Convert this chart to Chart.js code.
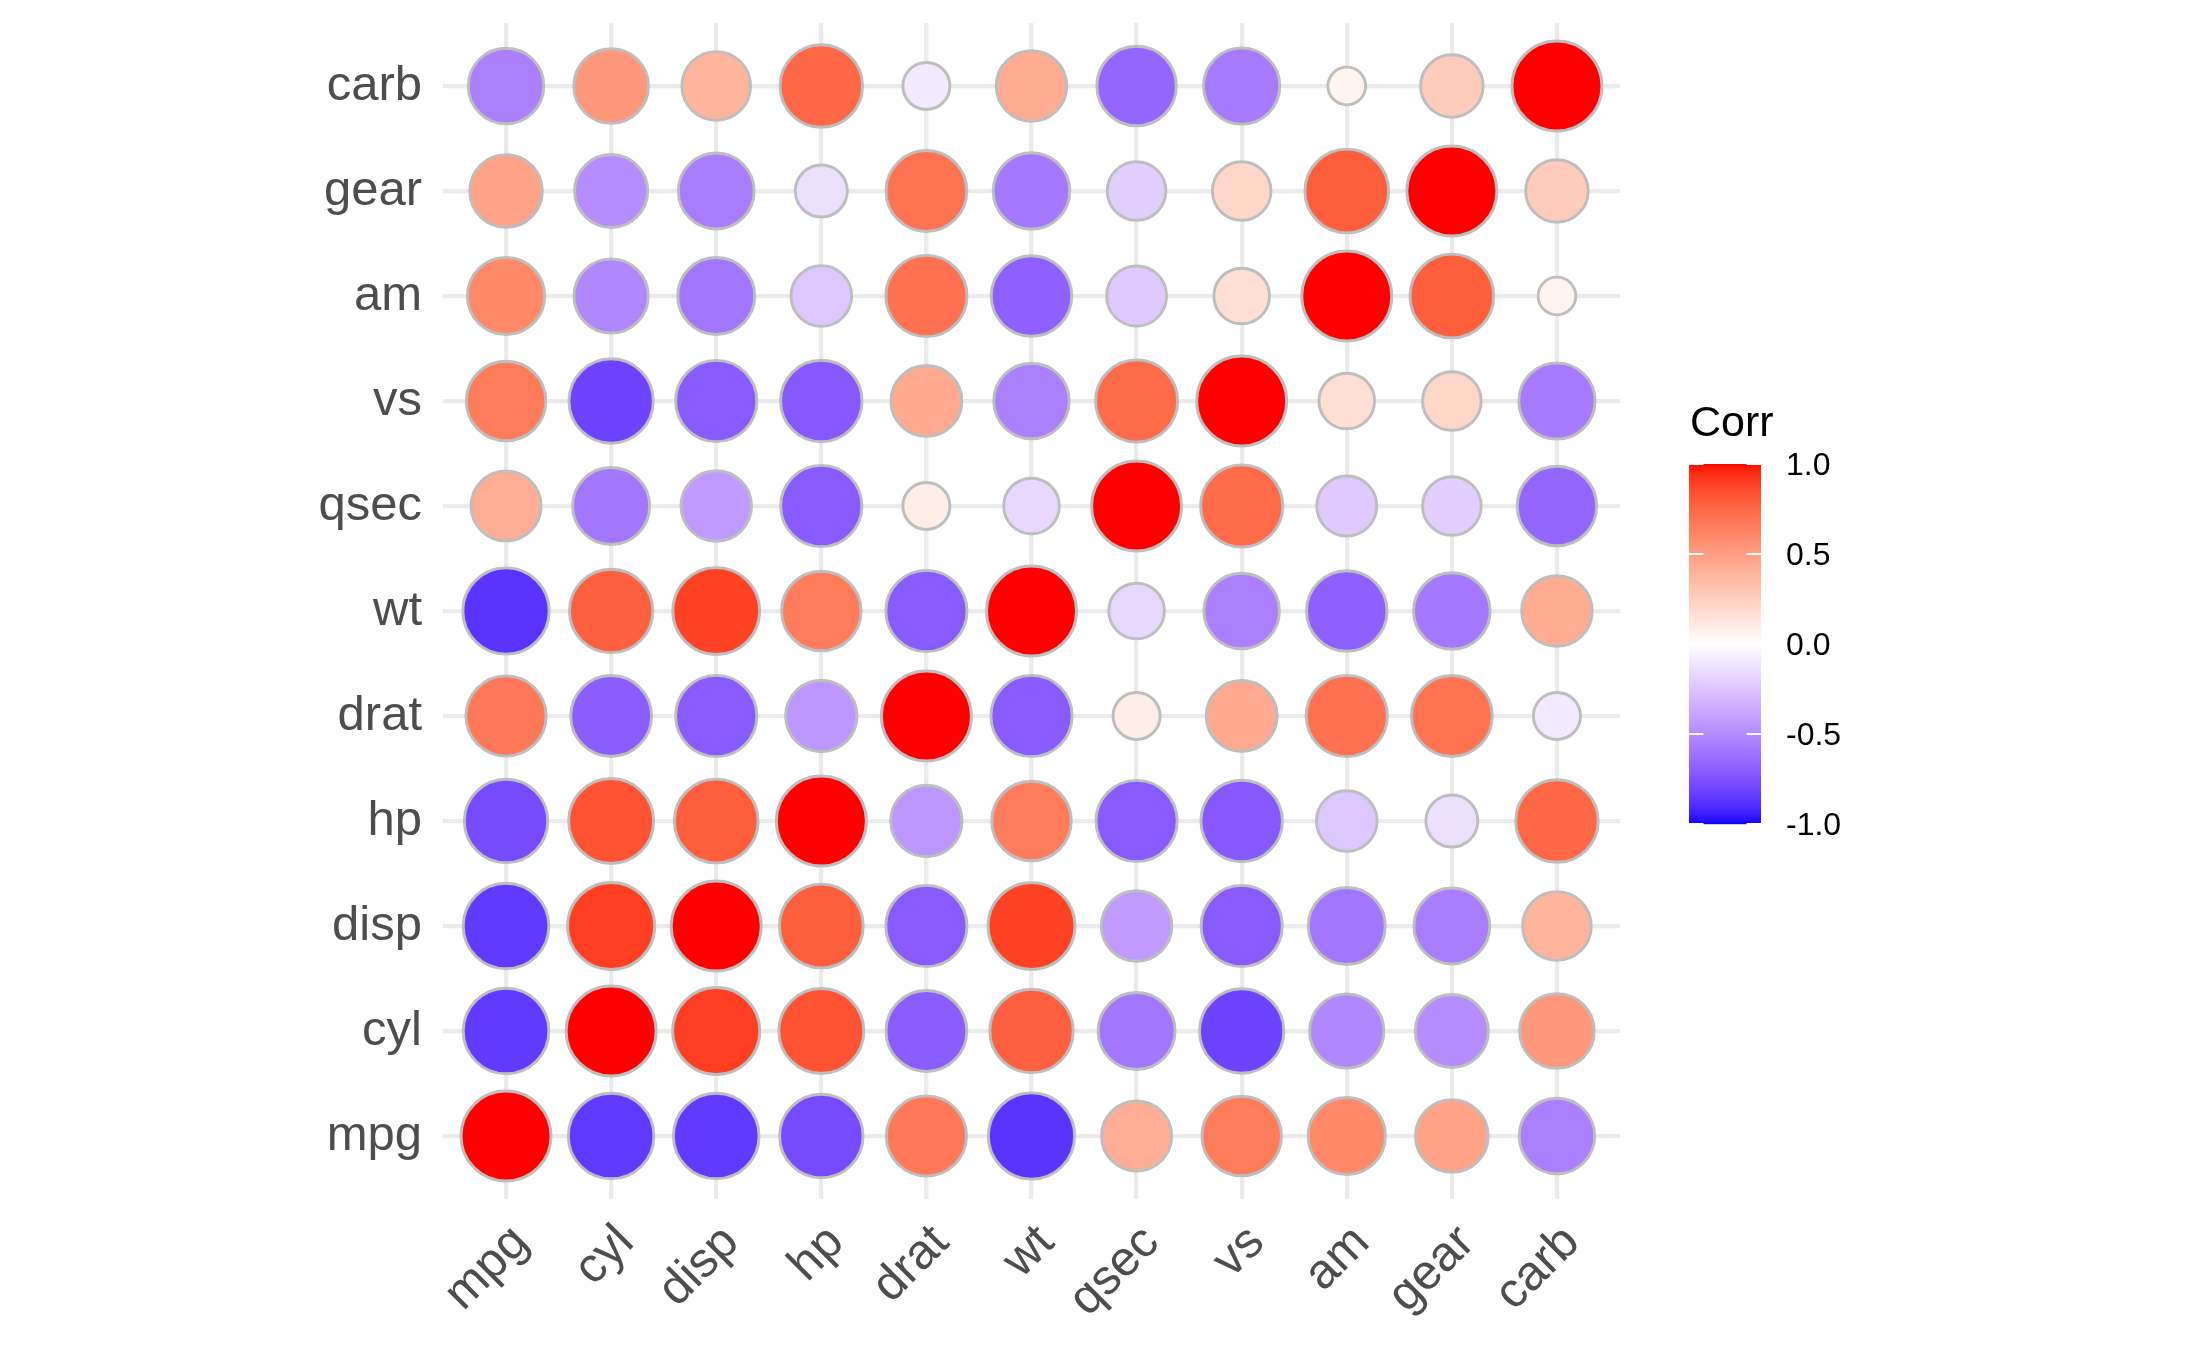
<!DOCTYPE html>
<html>
<head>
<meta charset="utf-8">
<script src="https://cdn.jsdelivr.net/npm/chart.js@4"></script>
<style>
html,body{margin:0;padding:0;background:#fff;}
#c{display:block;}
</style>
</head>
<body>
<canvas id="c" width="2187" height="1351"></canvas>
<script>
// ---- data (ggcorrplot of mtcars correlations, rounded to 2 digits) ----
const vars = ["mpg","cyl","disp","hp","drat","wt","qsec","vs","am","gear","carb"];
const mpg  = [ 1.00,-0.85,-0.85,-0.78, 0.68,-0.87, 0.42, 0.66, 0.60, 0.48,-0.55];
const cyl  = [-0.85, 1.00, 0.90, 0.83,-0.70, 0.78,-0.59,-0.81,-0.52,-0.49, 0.53];
const disp = [-0.85, 0.90, 1.00, 0.79,-0.71, 0.89,-0.43,-0.71,-0.59,-0.56, 0.39];
const hp   = [-0.78, 0.83, 0.79, 1.00,-0.45, 0.66,-0.71,-0.72,-0.24,-0.13, 0.75];
const drat = [ 0.68,-0.70,-0.71,-0.45, 1.00,-0.71, 0.09, 0.44, 0.71, 0.70,-0.09];
const wt   = [-0.87, 0.78, 0.89, 0.66,-0.71, 1.00,-0.17,-0.55,-0.69,-0.58, 0.43];
const qsec = [ 0.42,-0.59,-0.43,-0.71, 0.09,-0.17, 1.00, 0.74,-0.23,-0.21,-0.66];
const vs   = [ 0.66,-0.81,-0.71,-0.72, 0.44,-0.55, 0.74, 1.00, 0.17, 0.21,-0.57];
const am   = [ 0.60,-0.52,-0.59,-0.24, 0.71,-0.69,-0.23, 0.17, 1.00, 0.79, 0.06];
const gear = [ 0.48,-0.49,-0.56,-0.13, 0.70,-0.58,-0.21, 0.21, 0.79, 1.00, 0.27];
const carb = [-0.55, 0.53, 0.39, 0.75,-0.09, 0.43,-0.66,-0.57, 0.06, 0.27, 1.00];
const corrRows = [mpg, cyl, disp, hp, drat, wt, qsec, vs, am, gear, carb];
const legendTicks = [1.0, 0.5, 0.0, -0.5, -1.0];
const legendTitle = "Corr";

// ---- colour: ggplot2 gradient2 (blue-white-red) interpolated in Lab ----
function toLin(c){c/=255;return c<=0.04045?c/12.92:Math.pow((c+0.055)/1.055,2.4);}
function toS(c){let v=c<=0.0031308?12.92*c:1.055*Math.pow(c,1/2.4)-0.055;return Math.round(Math.max(0,Math.min(1,v))*255);}
const Xn=0.95047,Yn=1,Zn=1.08883,EPS=216/24389,KAP=24389/27;
function rgb2lab(c){
  const r=toLin(c[0]),g=toLin(c[1]),b=toLin(c[2]);
  const X=(0.4124564*r+0.3575761*g+0.1804375*b)/Xn;
  const Y=(0.2126729*r+0.7151522*g+0.0721750*b)/Yn;
  const Z=(0.0193339*r+0.1191920*g+0.9503041*b)/Zn;
  const f=t=>t>EPS?Math.cbrt(t):(KAP*t+16)/116;
  const fx=f(X),fy=f(Y),fz=f(Z);
  return [116*fy-16,500*(fx-fy),200*(fy-fz)];
}
function lab2rgb(l){
  const fy=(l[0]+16)/116,fx=fy+l[1]/500,fz=fy-l[2]/200;
  const inv=f=>{const f3=f*f*f;return f3>EPS?f3:(116*f-16)/KAP;};
  const X=inv(fx)*Xn,Y=inv(fy)*Yn,Z=inv(fz)*Zn;
  const r=3.2404542*X-1.5371385*Y-0.4985314*Z;
  const g=-0.9692660*X+1.8760108*Y+0.0415560*Z;
  const b=0.0556434*X-0.2040259*Y+1.0572252*Z;
  return [toS(r),toS(g),toS(b)];
}
const LAB_LOW=rgb2lab([0,0,255]),LAB_MID=rgb2lab([255,255,255]),LAB_HIGH=rgb2lab([255,0,0]);
function corrColor(v){
  const end=v>=0?LAB_HIGH:LAB_MID, start=v>=0?LAB_MID:LAB_LOW;
  const t=v>=0?v:(v+1);
  const l=[0,1,2].map(i=>start[i]+(end[i]-start[i])*t);
  const c=lab2rgb(l);
  return `rgb(${c[0]},${c[1]},${c[2]})`;
}

// ---- size: scale_size(range=c(4,10)) on |r| ----
const absVals = corrRows.flat().map(Math.abs);
const minAbs = Math.min(...absVals), maxAbs = Math.max(...absVals);
const PX_PER_SIZE = 8.71, STROKE = 2.9;
function pointRadius(v){
  const s = 4 + 6*Math.sqrt((Math.abs(v)-minAbs)/(maxAbs-minAbs));
  return (PX_PER_SIZE*s + STROKE)/2;
}

const points = [];
corrRows.forEach((row, i) => row.forEach((v, j) => points.push({x: i, y: j, v: v})));

const FONT = "'Liberation Sans', Arial, Helvetica, sans-serif";

const legendPlugin = {
  id: 'corrLegend',
  afterDraw(chart){
    const ctx = chart.ctx;
    const bx=1689, bw=72, by=464, bh=360;
    ctx.save();
    for (let k=0;k<bh;k++){
      const v = 1 - 2*(k+0.5)/bh;
      ctx.fillStyle = corrColor(v);
      ctx.fillRect(bx, by+k, bw, 1.2);
    }
    ctx.strokeStyle = '#ffffff';
    ctx.lineWidth = 2;
    ctx.fillStyle = '#000000';
    ctx.font = `32px ${FONT}`;
    ctx.textAlign = 'left';
    ctx.textBaseline = 'middle';
    legendTicks.forEach(t => {
      const y = by + (1 - t)/2*bh;
      ctx.beginPath();
      ctx.moveTo(bx, y); ctx.lineTo(bx+14.5, y);
      ctx.moveTo(bx+bw-14.5, y); ctx.lineTo(bx+bw, y);
      ctx.stroke();
      ctx.fillText(t.toFixed(1), 1786, y+2);
    });
    ctx.font = `43px ${FONT}`;
    ctx.textBaseline = 'alphabetic';
    ctx.fillText(legendTitle, 1690, 436);
    ctx.restore();
  }
};

function catTicks(scale){ scale.ticks = vars.map((_, i) => ({value: i})); }

new Chart(document.getElementById('c'), {
  type: 'bubble',
  data: {
    datasets: [{
      data: points,
      backgroundColor: ctx => corrColor(ctx.raw.v),
      borderColor: '#BEBEBE',
      borderWidth: STROKE,
      radius: ctx => pointRadius(ctx.raw.v),
      hoverRadius: 0,
      clip: false
    }]
  },
  options: {
    responsive: false,
    devicePixelRatio: 1,
    animation: false,
    events: [],
    layout: { autoPadding: false, padding: { top: 23, right: 567, bottom: 0, left: 0 } },
    plugins: { legend: { display: false }, tooltip: { enabled: false } },
    scales: {
      x: {
        type: 'linear', min: -0.6, max: 10.6,
        afterBuildTicks: catTicks,
        afterFit: s => { s.height = 152; s.paddingLeft = 0; s.paddingRight = 0; },
        grid: { color: '#EBEBEB', lineWidth: 4.3, drawTicks: false },
        border: { display: false },
        ticks: {
          autoSkip: false, minRotation: 45, maxRotation: 45, padding: 15, labelOffset: 15,
          color: '#4D4D4D', font: { family: FONT, size: 49 },
          callback: v => vars[v]
        }
      },
      y: {
        type: 'linear', min: -0.6, max: 10.6,
        afterBuildTicks: catTicks,
        afterFit: s => { s.width = 443; s.paddingTop = 0; s.paddingBottom = 0; },
        grid: { color: '#EBEBEB', lineWidth: 4.3, drawTicks: false },
        border: { display: false },
        ticks: {
          autoSkip: false, padding: 21,
          color: '#4D4D4D', font: { family: FONT, size: 49 },
          callback: v => vars[v]
        }
      }
    }
  },
  plugins: [legendPlugin]
});
</script>
</body>
</html>
